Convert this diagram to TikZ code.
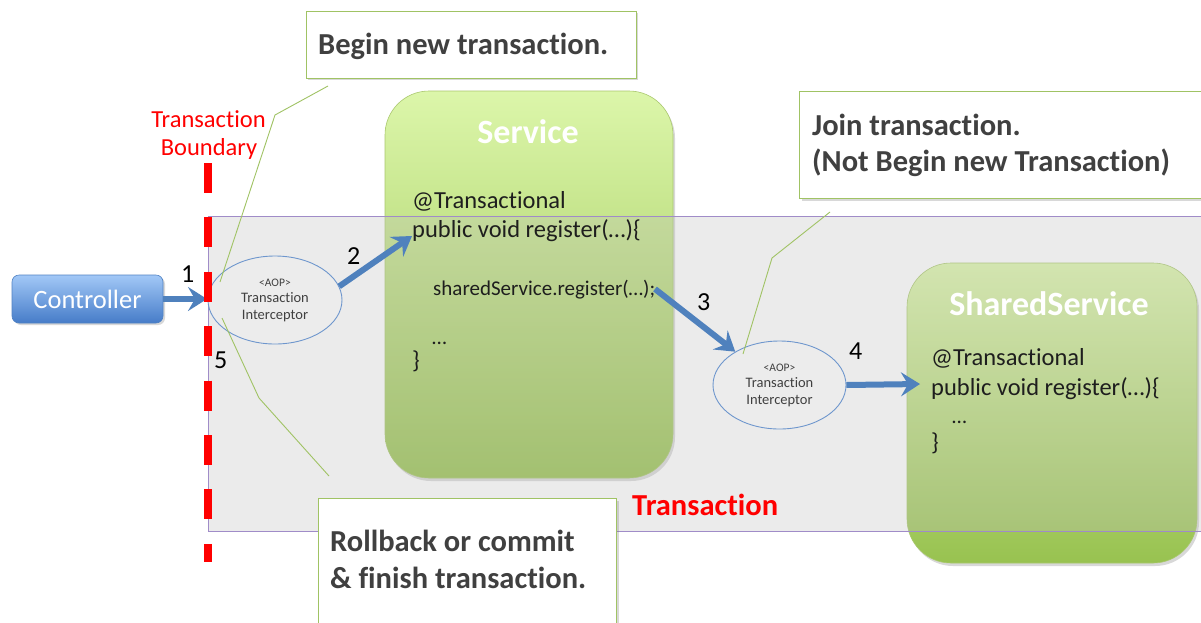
\documentclass[tikz,border=0pt]{standalone}
\usepackage{fontspec}
\setmainfont[Ligatures=NoCommon]{Carlito}
\usetikzlibrary{arrows.meta,shadows,shapes.geometric}

\definecolor{arrowblue}{RGB}{79,129,189}
\definecolor{callgreen}{RGB}{160,195,100}
\definecolor{txtgray}{RGB}{64,64,64}
\definecolor{boxtop}{RGB}{220,246,170}
\definecolor{boxbot}{RGB}{152,194,80}
\definecolor{boxline}{RGB}{170,200,110}
\definecolor{rectpurple}{RGB}{160,140,200}
\definecolor{rectfill}{RGB}{190,190,190}
\definecolor{ellblue}{RGB}{110,150,205}
\definecolor{ellfill}{RGB}{236,236,236}
\definecolor{ctltop}{RGB}{162,200,247}
\definecolor{ctlbot}{RGB}{70,124,200}
\definecolor{ctlline}{RGB}{80,130,195}
\definecolor{codetxt}{RGB}{30,30,30}
\definecolor{bred}{RGB}{255,0,0}

\begin{document}
\begin{tikzpicture}[x=1pt,y=-1pt,
  svcbox/.style={rounded corners=44pt, top color=boxtop, bottom color=boxbot,
    draw=boxline, line width=0.6pt, inner sep=0pt,
    drop shadow={shadow xshift=2pt,shadow yshift=-3pt,opacity=0.3}},
  txrect/.style={draw=rectpurple, line width=1.2pt, fill=rectfill, fill opacity=0.3, inner sep=0pt},
  aopell/.style={ellipse, draw=ellblue, line width=0.9pt, fill=ellfill, inner sep=0pt,
    text=txtgray, align=center, font=\fontsize{14.5}{16.5}\selectfont},
  ctlbox/.style={rounded corners=7pt, top color=ctltop, bottom color=ctlbot, draw=ctlline,
    line width=0.6pt, text=white, font=\fontsize{26.5}{28}\selectfont, inner sep=0pt,
    drop shadow={shadow xshift=2pt,shadow yshift=-2pt,opacity=0.3}},
  callout/.style={draw=callgreen, line width=1pt, fill=white, inner sep=0pt,
    drop shadow={shadow xshift=2pt,shadow yshift=-2pt,opacity=0.3}},
  calltxt/.style={anchor=base west, inner sep=0pt, text=txtgray, font=\fontsize{30.5}{32}\bfseries\selectfont},
  codet/.style={anchor=base west, inner sep=0pt, text=codetxt, font=\fontsize{24.5}{28}\selectfont},
  codesm/.style={anchor=base west, inner sep=0pt, text=codetxt, font=\fontsize{21}{24}\selectfont},
  titlet/.style={anchor=base, inner sep=0pt, text=white, font=\fontsize{34}{36}\bfseries\selectfont},
  numt/.style={anchor=base west, inner sep=0pt, text=black, font=\fontsize{26}{28}\selectfont},
  flow/.style={draw=arrowblue, line width=6pt, -{Stealth[length=19pt,width=24pt,inset=7pt]}},
  leader/.style={draw=callgreen, line width=0.9pt},
  redbound/.style={draw=bred, line width=8pt, dash pattern=on 30pt off 24.4pt}
]
\clip (0,0) rectangle (1201,622);
\fill[white] (0,0) rectangle (1201,622);

% service boxes
\node[svcbox, minimum width=288pt, minimum height=387pt] (service) at (529,284.5) {};
\node[svcbox, minimum width=290pt, minimum height=300pt] (shared) at (1052,413) {};

% transaction area
\node[txrect, minimum width=1030pt, minimum height=315pt, anchor=north west] (txarea) at (208,216) {};

% titles and code
\node[titlet] (svctitle) at (528,143) {Service};
\node[codet] (svc1) at (412,208) {@Transactional};
\node[codet] (svc2) at (412,237) {public void register(…)\{};
\node[codesm] (svc3) at (433,295) {sharedService.register(…);};
\node[codesm] (svc4) at (432,344) {…};
\node[codet] (svc5) at (412,368) {\}};

\node[titlet] (shtitle) at (1049,315) {SharedService};
\node[codet] (sh1) at (931,365) {@Transactional};
\node[codet] (sh2) at (931,395) {public void register(…)\{};
\node[codesm] (sh3) at (952,423) {…};
\node[codet] (sh4) at (931,450) {\}};

\node[anchor=base west, inner sep=0pt, text=bred, font=\fontsize{30.5}{32}\bfseries\selectfont] (txlabel) at (632,515) {Transaction};

% controller
\node[ctlbox, minimum width=151pt, minimum height=48pt] (ctl) at (87.5,299) {Controller};

% interceptors
\node[aopell, minimum width=134pt, minimum height=88pt] (aop1) at (275,300)
  {{\fontsize{11.5}{13}\selectfont <AOP>}\\Transaction\\Interceptor};
\node[aopell, minimum width=133pt, minimum height=88pt] (aop2) at (779.5,385)
  {{\fontsize{11.5}{13}\selectfont <AOP>}\\Transaction\\Interceptor};

% connector points
\coordinate (bnd) at (207,299);
\coordinate (svcin) at (412,236);
\coordinate (svcout) at (655,289);
\coordinate (sharedin) at (920,384);

\draw[flow] (ctl.east) -- (bnd);
\draw[flow] (aop1.12) -- (svcin);
\draw[flow] (svcout) -- (aop2.143);
\draw[flow] (aop2.east) -- (sharedin);

% numbers
\node[numt] (n1) at (181,282) {1};
\node[numt] (n2) at (347,264) {2};
\node[numt] (n3) at (697,310) {3};
\node[numt] (n4) at (849,359) {4};
\node[numt] (n5) at (214,368) {5};

% leader lines
\coordinate (bl1) at (328,86);
\coordinate (bl2) at (275,115);
\coordinate (bl3) at (220,282);
\coordinate (rl1) at (222,318);
\coordinate (rl2) at (259,398);
\coordinate (rl3) at (329,476);
\coordinate (jl1) at (830,212);
\coordinate (jl2) at (772,258);
\coordinate (jl3) at (743,354);
\draw[leader] (bl1) -- (bl2) -- (bl3);
\draw[leader] (rl3) -- (rl2) -- (rl1);
\draw[leader] (jl1) -- (jl2) -- (jl3);

% callouts
\node[callout, minimum width=330pt, minimum height=67pt] (beginbox) at (471,44.5) {};
\node[calltxt] (begintxt) at (318,54) {Begin new transaction.};
\node[callout, minimum width=416pt, minimum height=107pt, anchor=north west] (joinbox) at (799,91) {};
\node[calltxt] (jointxt1) at (812,135) {Join transaction.};
\node[calltxt] (jointxt2) at (812,171) {(Not Begin new Transaction)};
\node[callout, minimum width=298pt, minimum height=150pt, anchor=north west] (rollbox) at (318,498) {};
\node[calltxt] (rolltxt1) at (330,551) {Rollback or commit};
\node[calltxt] (rolltxt2) at (330,588) {\& finish transaction.};

% transaction boundary
\node[anchor=base, inner sep=0pt, text=bred, font=\fontsize{24.5}{26}\selectfont] (tb1) at (208.5,127) {Transaction};
\node[anchor=base, inner sep=0pt, text=bred, font=\fontsize{24.5}{26}\selectfont] (tb2) at (209,155) {Boundary};
\coordinate (rtop) at (208,163);
\coordinate (rbot) at (208,562);
\draw[redbound] (rtop) -- (rbot);
\end{tikzpicture}
\end{document}
